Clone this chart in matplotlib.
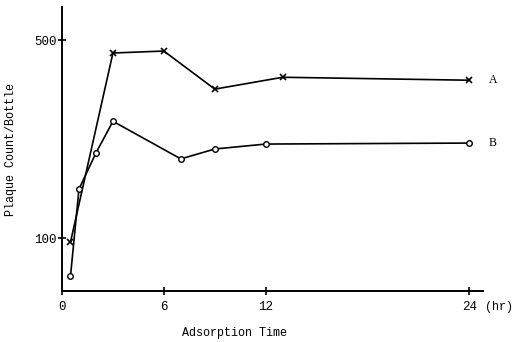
import matplotlib
matplotlib.use("Agg")
import matplotlib.pyplot as plt

# series (time in hr, plaque count per bottle)
time_a = [0.5, 3, 6, 9, 13, 24]
count_a = [92, 474, 478, 401, 425, 419]
time_b = [0.5, 1, 2, 3, 7, 9, 12, 24]
count_b = [23, 199, 272, 336, 260, 280, 290, 292]

x_ticks = [0, 6, 12, 24]
y_ticks = [100, 500]

plt.rcParams["font.family"] = ["Liberation Mono", "DejaVu Sans Mono"]

fig = plt.figure(figsize=(5.12, 3.42), dpi=100)
ax = fig.add_axes([62 / 512, 1 - 291 / 342, 421 / 512, 284 / 342])

ax.plot(time_a, count_a, color="black", lw=1.2, marker="x", ms=4, mew=1.2)
ax.plot(time_b, count_b, color="black", lw=1.2, marker="o", ms=4,
        mfc="white", mew=1.0)

# curve labels at the right end
for lab, y in (("A", count_a[-1]), ("B", count_b[-1])):
    ax.annotate(lab, xy=(24, y), xytext=(14, 0), textcoords="offset points",
                va="center", ha="left", fontsize=8.5, family="Liberation Serif")

ax.set_xlim(0, 24.8)
ax.set_ylim(-7, 567)
ax.set_xticks(x_ticks)
ax.set_yticks(y_ticks)
ax.set_xticklabels([str(t) for t in x_ticks], fontsize=9)
ax.set_yticklabels([str(t) for t in y_ticks], fontsize=9)
ax.tick_params(direction="inout", length=6, width=1.2)
ax.tick_params(axis="x", pad=4)
ax.tick_params(axis="y", pad=1)
ax.annotate("(hr)", xy=(24, 0), xycoords=("data", "axes fraction"),
            xytext=(11, -7), textcoords="offset points", fontsize=8.5,
            va="top", ha="left")

for s in ("top", "right"):
    ax.spines[s].set_visible(False)
for s in ("left", "bottom"):
    ax.spines[s].set_linewidth(1.4)

ax.set_xlabel("Adsorption Time", fontsize=8.5, labelpad=10, x=0.41)
ax.set_ylabel("Plaque Count/Bottle", fontsize=8.5, labelpad=12)

fig.savefig("out.png", dpi=100)
